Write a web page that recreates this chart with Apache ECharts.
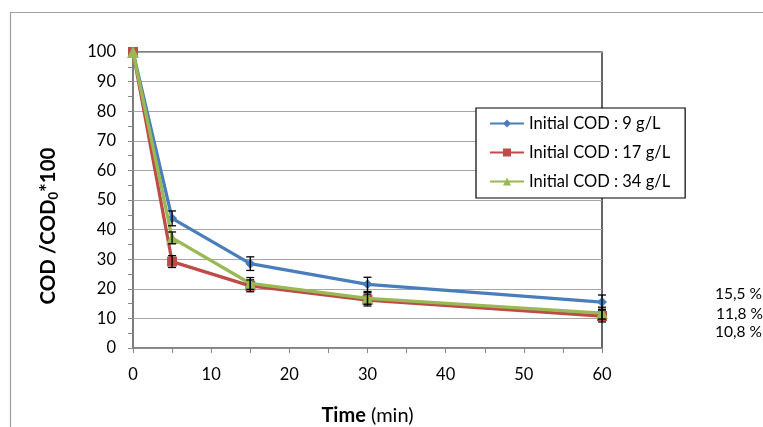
<!DOCTYPE html>
<html><head><meta charset="utf-8">
<script src="https://cdn.jsdelivr.net/npm/echarts@6/dist/echarts.min.js"></script>
<style>html,body{margin:0;padding:0;background:#fff}#c{width:763px;height:427px}</style>
</head><body><div id="c"></div>
<script>
var times = [0, 5, 15, 30, 60];
var names = ['Initial COD : 9 g/L', 'Initial COD : 17 g/L', 'Initial COD : 34 g/L'];
var cod9  = [100, 43.8, 28.5, 21.5, 15.5];
var cod17 = [100, 29.2, 21.0, 16.2, 10.8];
var cod34 = [100, 37.2, 21.8, 16.8, 11.8];
var err9  = [0, 2.5, 2.3, 2.4, 2.4];
var err17 = [0, 2.0, 2.0, 2.0, 2.0];
var err34 = [0, 2.0, 2.0, 2.0, 2.0];
var yTicks = [0, 10, 20, 30, 40, 50, 60, 70, 80, 90, 100];
var xTicks = [0, 10, 20, 30, 40, 50, 60];

var colors = ['#4a7ebb', '#be4b48', '#98b954'];
var symbols = ['diamond', 'rect', 'triangle'];
var symSizes = [10, 10, 12];
var allVals = [cod9, cod17, cod34];
var allErr = [err9, err17, err34];
var FONT = 'Lato';
var FS = 16.5;

var series = [];
allVals.forEach(function (vals, s) {
  series.push({
    name: names[s], type: 'line',
    data: vals.map(function (v, i) {
      var d = { value: [times[i], v] };
      if (i === vals.length - 1) {
        d.label = {
          show: true, position: 'right', distance: 5,
          offset: [103, [-8, 16, 1][s]],
          color: '#000', fontFamily: FONT, fontSize: 15.5,
          formatter: function (p) { return p.value[1].toFixed(1).replace('.', ',') + ' %'; }
        };
      }
      return d;
    }),
    color: colors[s],
    lineStyle: { width: 3.3, color: colors[s] },
    symbol: symbols[s], symbolSize: symSizes[s],
    itemStyle: { color: colors[s] },
    z: 3 + s
  });
});
allVals.forEach(function (vals, s) {
  series.push({
    type: 'custom', silent: true, z: 10,
    data: vals.map(function (v, i) { return [times[i], v, allErr[s][i]]; }),
    renderItem: function (params, api) {
      var e = api.value(2);
      if (!e) return null;
      var top = api.coord([api.value(0), api.value(1) + e]);
      var bot = api.coord([api.value(0), api.value(1) - e]);
      var hw = 4;
      var st = { stroke: '#000', lineWidth: 1.3 };
      return { type: 'group', children: [
        { type: 'line', shape: { x1: top[0], y1: top[1], x2: bot[0], y2: bot[1] }, style: st },
        { type: 'line', shape: { x1: top[0] - hw, y1: top[1], x2: top[0] + hw, y2: top[1] }, style: st },
        { type: 'line', shape: { x1: bot[0] - hw, y1: bot[1], x2: bot[0] + hw, y2: bot[1] }, style: st }
      ]};
    }
  });
});

var chart = echarts.init(document.getElementById('c'), null, { renderer: 'canvas' });
chart.setOption({
  animation: false,
  backgroundColor: '#fff',
  textStyle: { fontFamily: FONT },
  graphic: [{ type: 'rect', left: 8, top: 10, shape: { width: 800, height: 500 }, style: { fill: 'none', stroke: '#a0a0a0', lineWidth: 1.2 }, silent: true, z: -10 }],
  grid: { left: 133, right: 161, top: 52, bottom: 79, outerBoundsMode: 'none', containLabel: false, show: true, borderColor: '#000', borderWidth: 1.2, backgroundColor: 'transparent' },
  legend: {
    orient: 'vertical', left: 476, top: 108,
    data: names,
    backgroundColor: '#fff', borderColor: '#000', borderWidth: 1.2,
    padding: [7, 15, 8, 13], itemGap: 12, itemWidth: 34, itemHeight: 10,
    textStyle: { fontFamily: FONT, fontSize: FS, color: '#000', lineHeight: 17 }
  },
  xAxis: {
    type: 'value', min: 0, max: 60, interval: 10,
    name: '{b|Time} (min)', nameLocation: 'middle', nameGap: 58,
    nameTextStyle: { fontFamily: FONT, fontSize: 20, color: '#000', rich: { b: { fontFamily: FONT, fontSize: 20, fontWeight: 'bold', color: '#000' } } },
    axisLine: { onZero: false, lineStyle: { color: '#868686', width: 1.5 } },
    axisTick: { length: 5, lineStyle: { color: '#868686' } },
    minorTick: { show: true, splitNumber: 2, length: 5, lineStyle: { color: '#868686' } },
    splitLine: { show: false },
    axisLabel: { margin: 18, fontFamily: FONT, fontSize: FS, color: '#000',
      customValues: xTicks },
  },
  yAxis: {
    type: 'value', min: 0, max: 100, interval: 10,
    name: '{b|COD /COD}{s|0}{b|*100}', nameLocation: 'middle', nameGap: 73,
    nameTextStyle: { padding: [0, 52, 0, 0], rich: {
      b: { fontFamily: FONT, fontSize: 20.5, fontWeight: 'bold', color: '#000', lineHeight: 24 },
      s: { fontFamily: FONT, fontSize: 13, fontWeight: 'bold', color: '#000', lineHeight: 24, padding: [12, 0, 0, 0] }
    } },
    axisLine: { show: true, lineStyle: { color: '#868686', width: 1.5 } },
    axisTick: { show: true, length: 5, lineStyle: { color: '#868686' } },
    minorTick: { show: true, splitNumber: 2, length: 5, lineStyle: { color: '#868686' } },
    splitLine: { show: true, lineStyle: { color: '#a6a6a6', width: 1.2 } },
    axisLabel: { margin: 17, fontFamily: FONT, fontSize: FS, color: '#000', customValues: yTicks }
  },
  series: series
});
</script></body></html>
